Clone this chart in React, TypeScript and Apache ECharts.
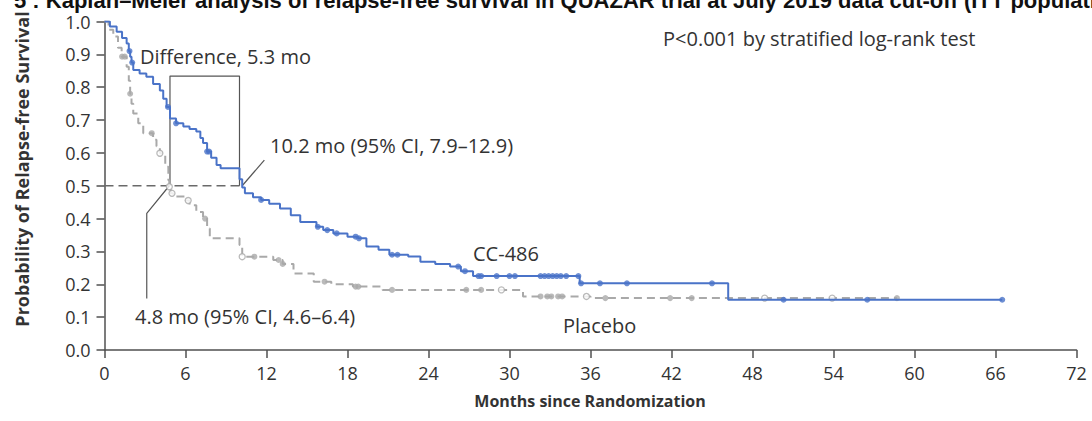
import React, { useEffect, useRef } from "react";
import * as echarts from "echarts";

// ---- Data ----
const xTickValues = [0, 6, 12, 18, 24, 30, 36, 42, 48, 54, 60, 66, 72];
const yTickValues = [0.0, 0.1, 0.2, 0.3, 0.4, 0.5, 0.6, 0.7, 0.8, 0.9, 1.0];

// CC-486 Kaplan–Meier steps (months, survival after event)
const cc486Times = [0, 0.4, 0.9, 1.3, 1.64, 1.8, 1.9, 2.0, 2.13, 2.6, 3.1, 3.6, 4.1, 4.35, 4.6, 4.85, 5.3, 5.84, 6.3, 6.8, 7.1, 7.3, 7.6, 7.9, 8.3, 8.6, 10.0, 10.2, 10.4, 11.0, 11.6, 12.2, 13.0, 13.8, 14.5, 15.7, 16.2, 16.95, 18.0, 18.8, 19.4, 20.3, 21.1, 22.5, 23.4, 24.5, 25.6, 26.4, 27.3, 35.2, 46.2, 66.5];
const cc486Surv = [1.0, 0.985, 0.969, 0.95, 0.933, 0.91, 0.893, 0.875, 0.852, 0.842, 0.832, 0.81, 0.79, 0.765, 0.74, 0.705, 0.69, 0.68, 0.673, 0.665, 0.645, 0.63, 0.604, 0.585, 0.563, 0.553, 0.52, 0.495, 0.477, 0.465, 0.457, 0.445, 0.431, 0.41, 0.39, 0.375, 0.365, 0.355, 0.345, 0.34, 0.315, 0.305, 0.29, 0.285, 0.269, 0.262, 0.254, 0.24, 0.225, 0.203, 0.153, 0.153];
const cc486CensorTimes = [1.85, 2.05, 4.7, 5.3, 7.6, 7.75, 11.6, 15.8, 16.5, 17.2, 18.6, 18.85, 21.3, 21.7, 26.2, 26.7, 27.7, 27.9, 29.05, 30.0, 30.4, 32.3, 32.6, 32.9, 33.2, 33.5, 33.8, 34.2, 35.1, 35.3, 36.7, 38.7, 45.0, 50.3, 56.5, 66.5];

// Placebo Kaplan–Meier steps
const placeboTimes = [0, 0.3, 0.65, 1.0, 1.27, 1.64, 1.8, 1.9, 2.0, 2.13, 2.5, 2.87, 3.6, 3.85, 4.1, 4.5, 4.73, 4.8, 4.9, 5.1, 6.0, 6.3, 6.8, 7.3, 7.6, 7.8, 10.0, 10.2, 12.5, 13.2, 14.0, 15.5, 16.8, 18.4, 20.6, 31.0, 36.0, 58.7];
const placeboSurv = [1.0, 0.975, 0.954, 0.92, 0.893, 0.862, 0.82, 0.78, 0.75, 0.72, 0.69, 0.66, 0.64, 0.62, 0.599, 0.558, 0.517, 0.497, 0.477, 0.467, 0.455, 0.441, 0.42, 0.4, 0.37, 0.34, 0.32, 0.284, 0.274, 0.262, 0.233, 0.208, 0.2, 0.193, 0.183, 0.163, 0.158, 0.158];
const placeboCensorFilledTimes = [1.3, 1.5, 1.9, 3.5, 7.45, 11.1, 12.9, 13.2, 16.3, 18.6, 18.8, 21.3, 26.8, 27.9, 32.3, 32.8, 33.1, 33.6, 33.9, 37.1, 41.9, 43.5, 58.7];
const placeboCensorOpenTimes = [4.1, 4.8, 5.0, 6.2, 10.2, 29.4, 35.7, 48.9, 53.9];

// Annotation geometry (data coordinates)
const medianLine = [[0, 0.5], [10.2, 0.5]];
const diffBox = [[4.85, 0.5], [4.85, 0.834], [10.0, 0.834], [10.0, 0.5]];
const leader102 = [[10.2, 0.5], [11.84, 0.578]];
const leader48 = [[4.8, 0.5], [3.13, 0.416], [3.13, 0.157]];

const titleText = "5 : Kaplan–Meier analysis of relapse-free survival in QUAZAR trial at July 2019 data cut-off (ITT population)";

function survivalAt(times: number[], surv: number[], t: number): number {
  let s = surv[0];
  for (let i = 0; i < times.length; i++) {
    if (times[i] <= t) s = surv[i];
  }
  return s;
}

const BLUE = "#4a73c8";
const GRAY = "#a9a9a9";
const TEXT = "#333333";
const AXIS = "#505050";
const FONT = "'Open Sans', sans-serif";

export default function App() {
  const ref = useRef<HTMLDivElement>(null);
  useEffect(() => {
    if (!ref.current) return;
    const chart = echarts.init(ref.current, null, { renderer: "svg" });

    const ccData = cc486Times.map((t, i) => [t, cc486Surv[i]]);
    const plData = placeboTimes.map((t, i) => [t, placeboSurv[i]]);
    const ccCens = cc486CensorTimes.map((t) => [t, survivalAt(cc486Times, cc486Surv, t)]);
    const plCensF = placeboCensorFilledTimes.map((t) => [t, survivalAt(placeboTimes, placeboSurv, t)]);
    const plCensO = placeboCensorOpenTimes.map((t) => [t, survivalAt(placeboTimes, placeboSurv, t)]);

    const annLine = (data: number[][], color: string, type: any, width: number) => ({
      type: "line",
      data,
      symbol: "none",
      silent: true,
      z: 1,
      lineStyle: { color, width, type },
    });

    const txt = (text: string, x: number, y: number, size = 20, extra: any = {}) => ({
      type: "text",
      x,
      y,
      silent: true,
      style: {
        text,
        fill: TEXT,
        font: `${size}px ${FONT}`,
        textAlign: "left",
        textVerticalAlign: "middle",
        ...extra,
      },
    });

    chart.setOption({
      animation: false,
      grid: { left: 104.5, right: 15.5, top: 21.5, bottom: 71 },
      xAxis: {
        type: "value",
        min: 0,
        max: 72,
        interval: 6,
        splitLine: { show: false },
        axisLine: { show: true, onZero: false, lineStyle: { color: AXIS, width: 1.5 } },
        axisTick: { show: true, length: 8, lineStyle: { color: AXIS, width: 1.5 } },
        axisLabel: {
          color: TEXT,
          fontSize: 18,
          fontFamily: FONT,
          margin: 14,
          formatter: (v: number) => (xTickValues.includes(v) ? String(v) : ""),
        },
      },
      yAxis: {
        type: "value",
        min: 0,
        max: 1,
        interval: 0.1,
        splitLine: { show: false },
        axisLine: { show: true, onZero: false, lineStyle: { color: AXIS, width: 1.5 } },
        axisTick: { show: true, length: 8, lineStyle: { color: AXIS, width: 1.5 } },
        axisLabel: {
          color: TEXT,
          fontSize: 18,
          fontFamily: FONT,
          margin: 14,
          formatter: (v: number) => {
            const m = yTickValues.find((t) => Math.abs(t - v) < 1e-6);
            return m === undefined ? "" : m.toFixed(1);
          },
        },
      },
      series: [
        annLine(medianLine, "#6a6a6a", [9, 5], 1.6),
        annLine(diffBox, "#555555", "solid", 1.2),
        annLine(leader102, "#555555", "solid", 1.2),
        annLine(leader48, "#555555", "solid", 1.2),
        {
          type: "line",
          name: "Placebo",
          data: plData,
          step: "end",
          symbol: "none",
          z: 2,
          lineStyle: { color: GRAY, width: 2, type: [8, 5] },
        },
        {
          type: "scatter",
          data: plCensF,
          symbol: "circle",
          symbolSize: 6,
          z: 3,
          itemStyle: { color: GRAY },
        },
        {
          type: "scatter",
          data: plCensO,
          symbol: "circle",
          symbolSize: 6,
          z: 3,
          itemStyle: { color: "#ffffff", borderColor: GRAY, borderWidth: 1.3 },
        },
        {
          type: "line",
          name: "CC-486",
          data: ccData,
          step: "end",
          symbol: "none",
          z: 4,
          lineStyle: { color: BLUE, width: 2 },
        },
        {
          type: "scatter",
          data: ccCens,
          symbol: "circle",
          symbolSize: 6,
          z: 5,
          itemStyle: { color: BLUE },
        },
      ],
      graphic: [
        {
          type: "text",
          x: 14,
          y: 0,
          silent: true,
          style: {
            text: titleText,
            fill: "#111111",
            font: "bold 22px 'Liberation Sans', Arial, sans-serif",
            textAlign: "left",
            textVerticalAlign: "middle",
          },
        },
        {
          type: "text",
          x: 22,
          y: 169,
          rotation: Math.PI / 2,
          silent: true,
          style: {
            text: "Probability of Relapse-free Survival",
            fill: TEXT,
            font: `bold 18px ${FONT}`,
            textAlign: "center",
            textVerticalAlign: "middle",
          },
        },
        {
          type: "text",
          x: 590,
          y: 401,
          silent: true,
          style: {
            text: "Months since Randomization",
            fill: TEXT,
            font: `bold 16px ${FONT}`,
            textAlign: "center",
            textVerticalAlign: "middle",
          },
        },
        txt("Difference, 5.3 mo", 140, 56.7),
        txt("10.2 mo (95% CI, 7.9–12.9)", 270, 145),
        txt("4.8 mo (95% CI, 4.6–6.4)", 135, 316.7),
        txt("P<0.001 by stratified log-rank test", 663, 38),
        txt("CC-486", 473, 253),
        txt("Placebo", 563, 325),
      ],
    });
    return () => chart.dispose();
  }, []);
  return (
    <div
      ref={ref}
      style={{ position: "absolute", left: 0, top: 0, width: 1092, height: 421 }}
    />
  );
}
